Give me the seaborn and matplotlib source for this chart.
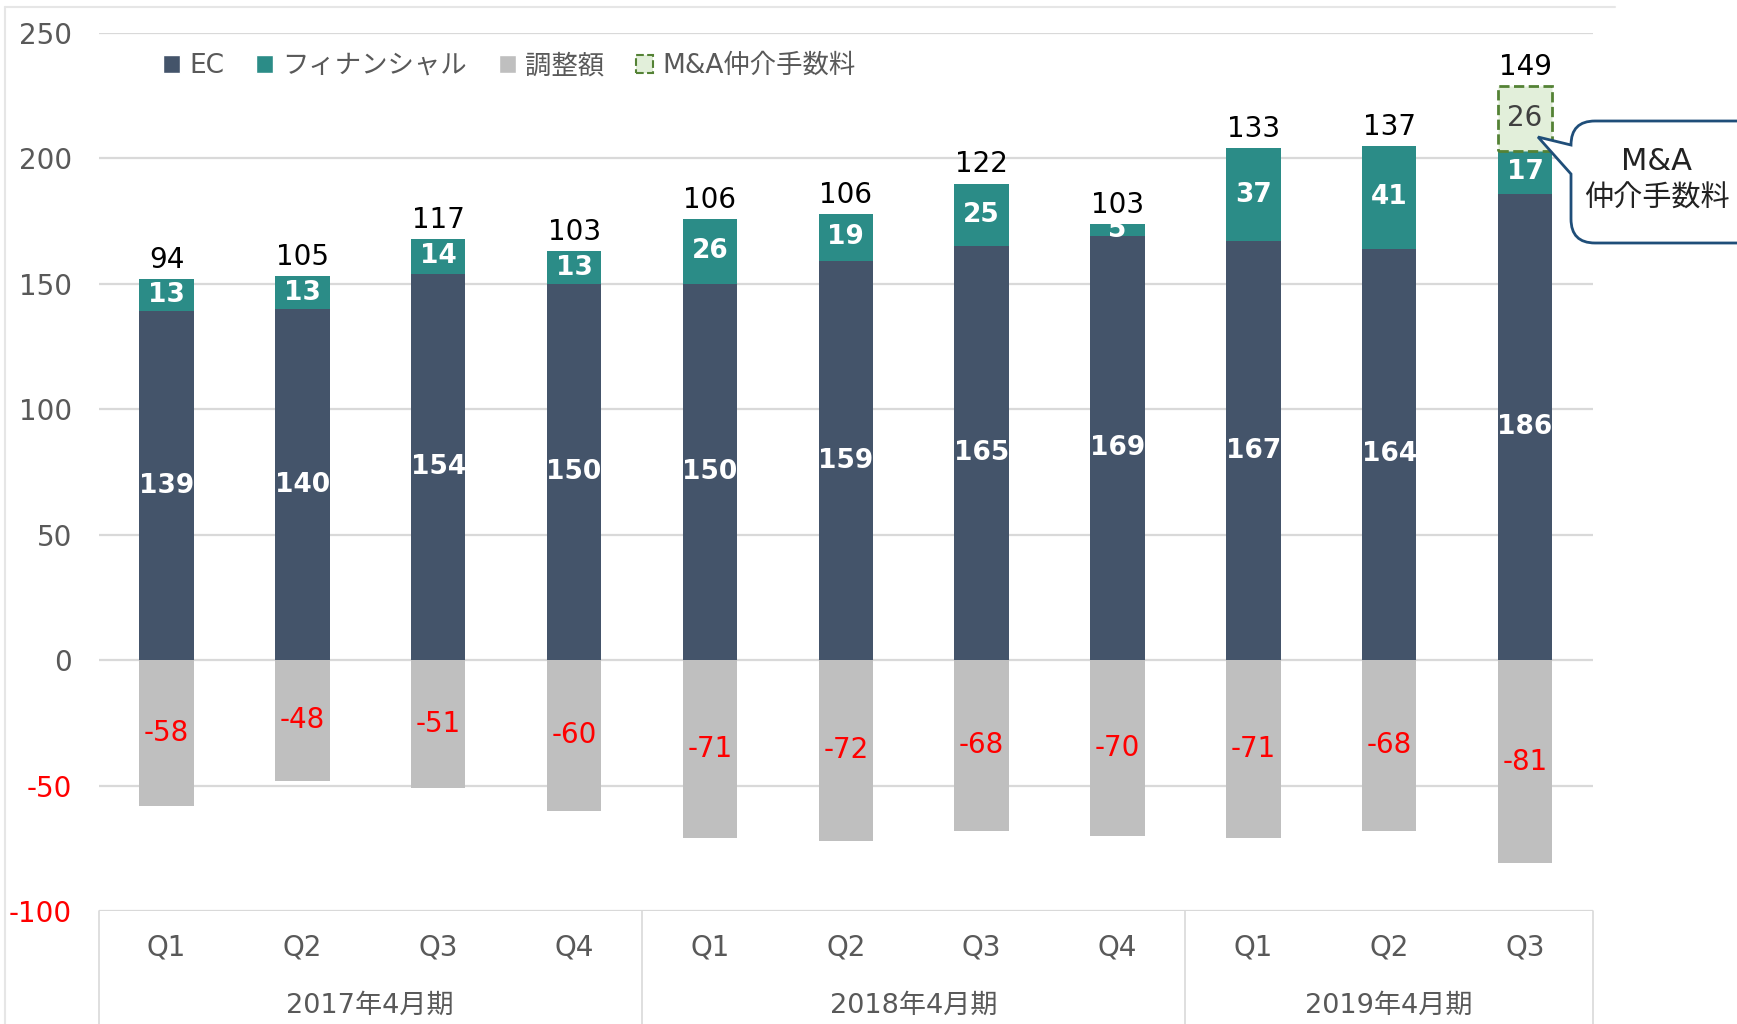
import numpy as np
import pandas as pd
import matplotlib
matplotlib.use("Agg")
import matplotlib.pyplot as plt
import seaborn as sns
from matplotlib.patches import Patch, PathPatch
from matplotlib.path import Path
from matplotlib.lines import Line2D
from matplotlib.transforms import Affine2D

sns.set_style("white")
plt.rcParams["font.family"] = ["DejaVu Sans", "Noto Sans CJK JP"]

# data
periods = ["2017年4月期", "2018年4月期", "2019年4月期"]
period_counts = [4, 4, 3]
quarters = ["Q1", "Q2", "Q3", "Q4", "Q1", "Q2", "Q3", "Q4", "Q1", "Q2", "Q3"]
ec = [139, 140, 154, 150, 150, 159, 165, 169, 167, 164, 186]
financial = [13, 13, 14, 13, 26, 19, 25, 5, 37, 41, 17]
adjustment = [-58, -48, -51, -60, -71, -72, -68, -70, -71, -68, -81]
ma_fee = [np.nan] * 10 + [26]
totals = [94, 105, 117, 103, 106, 106, 122, 103, 133, 137, 149]

EC_COLOR = "#44546A"
FIN_COLOR = "#2B8C87"
ADJ_COLOR = "#BFBFBF"
MA_FILL = "#E2EFDA"
MA_EDGE = "#548235"
GRID = "#D9D9D9"
TXT = "#595959"

period_of = [p for p, n in zip(periods, period_counts) for _ in range(n)]
keys = [p + q for p, q in zip(period_of, quarters)]
df = pd.DataFrame({"key": keys, "ec": ec, "fin": financial,
                   "adj": adjustment, "ma": ma_fee})

W, H = 1737, 1024
fig = plt.figure(figsize=(W / 100, H / 100), dpi=100)
ax = fig.add_axes([98.6 / W, 1 - 911 / H, (1593 - 98.6) / W, (911 - 33) / H])

common = dict(x="key", order=keys, width=0.4, saturation=1, errorbar=None, ax=ax)

sns.barplot(data=df, y="ec", color=EC_COLOR, linewidth=0, **common)
c_ec = ax.containers[-1]
sns.barplot(data=df, y="fin", color=FIN_COLOR, linewidth=0, **common)
c_fin = ax.containers[-1]
sns.barplot(data=df, y="adj", color=ADJ_COLOR, linewidth=0, **common)
c_adj = ax.containers[-1]
sns.barplot(data=df, y="ma", color=MA_FILL, edgecolor=MA_EDGE, linewidth=2,
            linestyle="--", **common)
c_ma = ax.containers[-1]

# stack the segments
base_fin = df["ec"].values
base_ma = (df["ec"] + df["fin"]).values
for cont, base in [(c_fin, base_fin), (c_ma, base_ma)]:
    for patch in cont:
        i = int(round(patch.get_x() + patch.get_width() / 2))
        patch.set_y(base[i])

ax.bar_label(c_ec, label_type="center", color="white", fontweight="bold", fontsize=19)
ax.bar_label(c_fin, label_type="center", color="white", fontweight="bold", fontsize=19)
ax.bar_label(c_adj, label_type="center", color="#FF0000", fontsize=20)
ax.bar_label(c_ma, label_type="center", color="#404040", fontsize=20)

tops = base_ma + df["ma"].fillna(0).values
for i, t in enumerate(totals):
    ax.text(i, tops[i] + 2, str(t), ha="center", va="bottom", fontsize=20, color="black")

ax.set_xlim(-0.5, len(keys) - 0.5)
ax.set_ylim(-100, 250)
yticks = list(range(-100, 251, 50))
ax.set_yticks(yticks, labels=[str(t) for t in yticks])
ax.tick_params(axis="y", length=0, pad=19, labelsize=20, labelcolor=TXT)
for lab, t in zip(ax.get_yticklabels(), yticks):
    if t < 0:
        lab.set_color("#FF0000")
ax.set_xticks([])
ax.set_xlabel("")
ax.set_ylabel("")
ax.yaxis.grid(True, color=GRID, linewidth=1.6)
ax.set_axisbelow(True)
for s in ax.spines.values():
    s.set_visible(False)

# category axis below the plot
y_bottom = -146
edges = np.concatenate([[0], np.cumsum(period_counts)]) - 0.5
for xe in edges:
    ax.plot([xe, xe], [-100, y_bottom], color=GRID, linewidth=1.2, clip_on=False)
for i, q in enumerate(quarters):
    ax.text(i, -114.7, q, ha="center", va="center", fontsize=20, color=TXT, clip_on=False)
for p, a, b in zip(periods, edges[:-1], edges[1:]):
    ax.text((a + b) / 2, -137.8, p, ha="center", va="center", fontsize=19.5, color=TXT, clip_on=False)

# legend
handles = [Patch(facecolor=EC_COLOR), Patch(facecolor=FIN_COLOR), Patch(facecolor=ADJ_COLOR),
           Patch(facecolor=MA_FILL, edgecolor=MA_EDGE, linestyle="--", linewidth=1.5)]
labels = ["EC", "フィナンシャル", "調整額", "M&A仲介手数料"]
fig.legend(handles, labels, loc="center left", bbox_to_anchor=(163 / W, 1 - 66 / H),
           ncol=4, frameon=False, fontsize=19, handlelength=0.65, handleheight=0.65,
           handletextpad=0.35, columnspacing=1.2, borderpad=0, borderaxespad=0,
           labelcolor=TXT)

# chart area border (top / left)
fig.add_artist(Line2D([5 / W, 1615 / W], [1 - 7 / H, 1 - 7 / H], color="#E6E6E6", linewidth=1.5))
fig.add_artist(Line2D([5 / W, 5 / W], [1 - 7 / H, 0], color="#E6E6E6", linewidth=1.5))

# callout bubble, in pixel coords (y down)
px = Affine2D().scale(1, -1).translate(0, H).scale(1 / 100) + fig.dpi_scale_trans
L, R, T, B, r = 1571, 1800, 121, 243, 24
verts = [(L + r, T), (R - r, T), (R, T), (R, T + r), (R, B - r), (R, B), (R - r, B),
         (L + r, B), (L, B), (L, B - r), (L, 174), (1538, 137), (L, 145), (L, T + r),
         (L, T), (L + r, T), (L + r, T)]
codes = [Path.MOVETO, Path.LINETO, Path.CURVE3, Path.CURVE3, Path.LINETO, Path.CURVE3,
         Path.CURVE3, Path.LINETO, Path.CURVE3, Path.CURVE3, Path.LINETO, Path.LINETO,
         Path.LINETO, Path.LINETO, Path.CURVE3, Path.CURVE3, Path.CLOSEPOLY]
bubble = PathPatch(Path(verts, codes), facecolor="white", edgecolor="#1F4E79",
                   linewidth=2, transform=px)
fig.add_artist(bubble)
fig.text(1657 / W, 1 - 162 / H, "M&A", ha="center", va="center", fontsize=22, color="#222222")
fig.text(1657 / W, 1 - 199 / H, "仲介手数料", ha="center", va="center", fontsize=21, color="#222222")

fig.savefig("out.png", dpi=100)
